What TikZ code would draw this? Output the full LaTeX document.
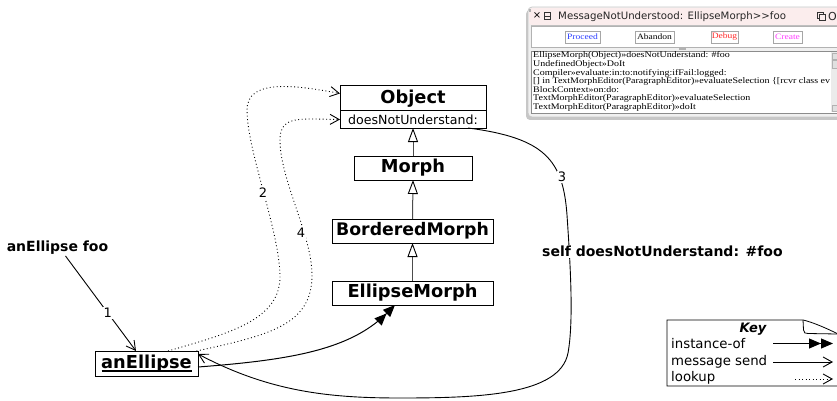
\documentclass[tikz,border=0pt]{standalone}
\usepackage{fontspec}
\setmainfont{DejaVu Sans}
\newfontfamily\dbgfont[FakeStretch=1.16]{Liberation Serif}
\usetikzlibrary{arrows.meta}
\definecolor{titlepink}{HTML}{FBEDED}
\definecolor{framegrey}{HTML}{C9C9C9}
\definecolor{btnblue}{HTML}{2A3CFF}
\definecolor{btnred}{HTML}{FF2A2A}
\definecolor{btnmag}{HTML}{FF3CFF}
\begin{document}
\begin{tikzpicture}[x=1pt,y=-1pt,
  cls/.style={draw, line width=1pt, inner sep=0pt, outer sep=0pt, fill=white,
    font=\bfseries\fontsize{17.8}{20}\selectfont},
  gen/.style={draw=black!70, line width=1pt,
    -{Triangle[length=14pt,width=10pt,line width=0.9pt,fill=white,color=black]}},
  msg/.style={line width=0.9pt, -{Straight Barb[length=9pt,width=10pt,line width=0.9pt]}},
  look/.style={line width=0.9pt, dash pattern=on 0.9pt off 2.6pt,
    -{Straight Barb[length=9pt,width=10pt,line width=0.9pt]}},
  inst/.style={line width=1pt, -{Triangle[length=12pt,width=10pt]Triangle[length=12pt,width=10pt]}},
  lbl/.style={fill=white, inner sep=1pt, font=\fontsize{13}{15}\selectfont},
  bigl/.style={fill=white, inner sep=1pt, font=\bfseries\fontsize{14}{16}\selectfont},
  keytxt/.style={anchor=west, inner sep=0pt, font=\fontsize{13.3}{15}\selectfont},
  btn/.style={draw=black!35, fill=white, inner sep=0pt, minimum height=12pt,
    font=\dbgfont\fontsize{8.2}{9}\selectfont},
  dbgline/.style={anchor=base west, inner sep=0pt, font=\dbgfont\fontsize{8.6}{9}\selectfont}
]
\useasboundingbox (0,0) rectangle (837,401);

% ---------------- debugger window ----------------
\fill[black!22, rounded corners=4pt] (526,10) rectangle (850,120);
\draw[framegrey, fill=black!6, rounded corners=4pt, line width=0.8pt] (528,7) rectangle (850,117);
\fill[titlepink, rounded corners=3pt] (529,8) rectangle (849,25);
\draw[black!25, line width=0.6pt] (531,25) -- (849,25);
\draw[black!30, fill=white, line width=0.6pt] (531,26) rectangle (849,47);
\fill[black!30] (679,47.5) rectangle (686,50);
\fill[black!30] (529,9) rectangle (531,12);
\draw[black!45, fill=white, line width=0.6pt] (531,51) rectangle (849,113);
\fill[black!8] (831,52) rectangle (849,112);
\draw[black!30, fill=black!12, line width=0.4pt] (832,53) rectangle (837,59);
\draw[black!30, fill=black!12, line width=0.4pt] (832,60) rectangle (837,68);
\draw[black!30, fill=black!12, line width=0.4pt] (832,105) rectangle (837,111);

\node[font=\fontsize{10}{12}\selectfont, inner sep=0pt] (xclose) at (537,16) {×};
\draw[black!80, line width=0.7pt] (544,12.5) rectangle (550.5,19.5);
\draw[black!80, line width=0.7pt] (544,16) -- (550.5,16);
\node[anchor=west, inner sep=0pt, text=black!85, font=\fontsize{10.2}{12}\selectfont] (ttl) at (558,16.5) {MessageNotUnderstood: EllipseMorph>{}>foo};
\draw[black!80, line width=0.6pt] (817,12) rectangle (823,18);
\draw[black!80, line width=0.6pt, fill=titlepink] (819.5,14.5) rectangle (825.5,20.5);
\node[inner sep=0pt, text=black!85, font=\fontsize{11}{13}\selectfont] (ricon) at (832.5,16.5) {O};

\node[btn, text=btnblue, minimum width=35pt] (bproceed) at (582.5,37) {Proceed};
\node[btn, text=black, minimum width=39pt] (babandon) at (654.5,37) {Abandon};
\node[btn, text=btnred, minimum width=27pt] (bdebug) at (724.5,37) {Debug};
\node[btn, text=btnmag, minimum width=29pt] (bcreate) at (787.5,37) {Create};

\node[dbgline] (l1) at (533,58.0) {EllipseMorph(Object)»doesNotUnderstand: \#foo};
\node[dbgline] (l2) at (533,66.6) {UndefinedObject»DoIt};
\node[dbgline] (l3) at (533,75.2) {Compiler»evaluate:in:to:notifying:ifFail:logged:};
\node[dbgline] (l4) at (533,83.8) {[] in TextMorphEditor(ParagraphEditor)»evaluateSelection \{[rcvr class ev};
\node[dbgline] (l5) at (533,92.4) {BlockContext»on:do:};
\node[dbgline] (l6) at (533,101.0) {TextMorphEditor(ParagraphEditor)»evaluateSelection};
\node[dbgline] (l7) at (533,109.6) {TextMorphEditor(ParagraphEditor)»doIt};

% ---------------- class hierarchy ----------------
\node[cls, minimum width=146pt, minimum height=25pt] (obj) at (413,98.5) {Object};
\node[draw, line width=1pt, inner sep=0pt, outer sep=0pt, fill=white, anchor=north,
  minimum width=146pt, minimum height=17pt, font=\fontsize{12.6}{14}\selectfont] (dnu) at (obj.south) {doesNotUnderstand:};
\node[cls, minimum width=118pt, minimum height=24pt] (morph) at (413,168) {Morph};
\node[cls, minimum width=161pt, minimum height=24pt, font=\bfseries\fontsize{17.3}{20}\selectfont] (bord) at (412.5,231) {BorderedMorph};
\node[cls, minimum width=161pt, minimum height=24pt] (ell) at (412.5,293) {EllipseMorph};
\node[cls, minimum width=103pt, minimum height=25pt] (anE) at (146.5,363.5) {anEllipse};
\draw[line width=1.4pt] ([xshift=-45pt,yshift=-2.6pt]anE.base) -- ([xshift=45pt,yshift=-2.6pt]anE.base);

\draw[gen] (morph.north) -- (dnu.south);
\draw[gen] (bord.north) -- (morph.south);
\draw[gen] (ell.north) -- (bord.south);

% ---------------- message 1 ----------------
\node[bigl] (m1) at (57.5,248) {anEllipse foo};
\coordinate (m1s) at ([xshift=8pt]m1.south);
\coordinate (anEin) at ([xshift=-10.5pt]anE.north);
\draw[msg] (m1s) -- node[pos=0.6, lbl] (n1) {1} (anEin);

% ---------------- instance-of ----------------
\coordinate (anEe1) at ([yshift=-3.5pt]anE.east);
\coordinate (ellin) at ([xshift=-17.5pt]ell.south);
\draw[inst] (anEe1) .. controls (290,360) and (350,350) .. (ellin);

% ---------------- lookups 2 and 4 ----------------
\coordinate (anE2) at ([xshift=21.5pt]anE.north);
\coordinate (anE4) at ([xshift=50pt]anE.north);
\coordinate (objw) at ([yshift=5pt]obj.west);
\draw[look] (anE2) .. controls (230,333) and (281,320) .. (280,275)
  .. controls (279,230) and (247,150) .. (247,110)
  .. controls (247,80) and (290,84) .. (objw);
\draw[look] (anE4) .. controls (270,335) and (312,325) .. (312,275)
  .. controls (312,235) and (280,180) .. (280,140)
  .. controls (280,115) and (300,119) .. (dnu.west);
\node[lbl] (n2) at (263,193) {2};
\node[lbl] (n4) at (301,233) {4};

% ---------------- message 3 ----------------
\coordinate (dnus) at ([xshift=55pt]dnu.south);
\coordinate (anEe3) at ([yshift=9.5pt]anE.east);
\draw[msg] (dnus) .. controls (545,138) and (563,160) .. (567,215)
  .. controls (570,260) and (574,320) .. (568,353)
  .. controls (560,395) and (480,398) .. (400,398)
  .. controls (330,398) and (270,392) .. (anEe3);
\node[lbl] (n3) at (562,177) {3};
\node[bigl, anchor=west] (m3) at (541,251.5) {self doesNotUnderstand: \#foo};

% ---------------- key ----------------
\draw[line width=0.8pt] (837,386) -- (667,386) -- (667,320) -- (803,320)
  .. controls (812,322) and (826,328) .. (837,333.5);
\draw[line width=0.8pt] (803,320) -- (803.5,330) .. controls (804,333) and (805,333.5) .. (808,333.5) -- (837,334);
\node[inner sep=0pt, font=\bfseries\itshape\fontsize{13}{15}\selectfont] (keyt) at (753,329) {Key};
\node[keytxt] (k1) at (671,344) {instance-of};
\node[keytxt] (k2) at (671,362) {message send};
\node[keytxt] (k3) at (671,378) {lookup};
\coordinate (ka1) at (773,343.5);
\coordinate (kb1) at (833,343.5);
\coordinate (ka2) at (773,362);
\coordinate (kb2) at (833,362);
\coordinate (ka3) at (795,379);
\coordinate (kb3) at (833,379);
\draw[inst] (ka1) -- (kb1);
\draw[msg] (ka2) -- (kb2);
\draw[look] (ka3) -- (kb3);
\end{tikzpicture}
\end{document}
